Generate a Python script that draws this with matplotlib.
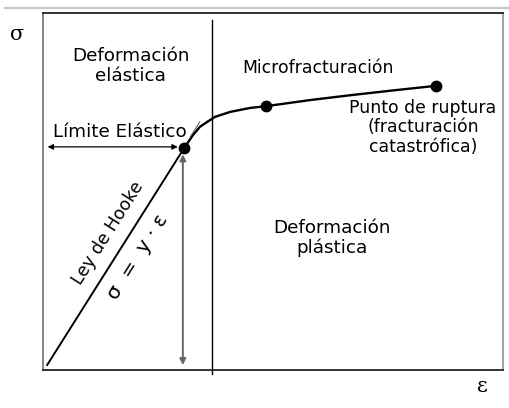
import numpy as np
import matplotlib
matplotlib.use("Agg")
import matplotlib.pyplot as plt

# Curva tensión-deformación (unidades arbitrarias, ejes 0..10)
hooke_strain = [0.09, 3.07]
hooke_stress = [0.14, 6.22]

plastic_strain = [3.07, 3.26, 3.41, 3.57, 3.74, 4.07, 4.50, 4.85, 5.80, 6.70, 7.60, 8.54]
plastic_stress = [6.22, 6.58, 6.81, 6.95, 7.09, 7.23, 7.34, 7.39, 7.56, 7.70, 7.83, 7.96]

dot_strain = [3.07, 4.85, 8.54]
dot_stress = [6.22, 7.39, 7.96]

elastic_limit = (3.04, 6.22)
boundary_x = 3.67
tangent_strain = [3.20, 3.41]
tangent_stress = [6.53, 6.95]

W, H = 510, 408
fig = plt.figure(figsize=(W / 100, H / 100), dpi=100)
ax = fig.add_axes([43 / W, (H - 370) / H, 460 / W, 357 / H])
ax.set_xlim(0, 10)
ax.set_ylim(0, 10)
ax.set_xticks([])
ax.set_yticks([])
for side, col in [("left", "#7a7a7a"), ("top", "#222222"), ("right", "#9a9a9a"), ("bottom", "#222222")]:
    ax.spines[side].set_color(col)
    ax.spines[side].set_linewidth(1.3)

# linea gris superior
fig.add_artist(plt.Line2D([5 / W, 1], [1 - 8 / H, 1 - 8 / H], color="#c8c8c8", lw=1.6))

ax.plot(hooke_strain, hooke_stress, color="black", lw=1.4)
ax.plot(plastic_strain, plastic_stress, color="black", lw=1.7)
ax.plot(tangent_strain, tangent_stress, color="#555555", lw=0.7)
ax.plot(dot_strain, dot_stress, "o", color="black", ms=7.5)

ax.plot([boundary_x, boundary_x], [-0.1, 9.8], color="black", lw=1.0, clip_on=False)

ax.annotate("", xy=(0.04, 6.25), xytext=(elastic_limit[0] - 0.05, 6.25),
            arrowprops=dict(arrowstyle="<|-|>", color="black", lw=0.9, mutation_scale=8))
ax.annotate("", xy=(elastic_limit[0], 0.06), xytext=(elastic_limit[0], 6.12),
            arrowprops=dict(arrowstyle="<|-|>", color="#666666", lw=1.4, mutation_scale=9))

fs_geo = 13.2
fs = 12.4
ax.text(1.91, 8.52, "Deformación\nelástica", ha="center", va="center", fontsize=fs_geo,
        linespacing=1.15, family="DejaVu Sans")
ax.text(0.22, 6.67, "Límite Elástico", ha="left", va="center", fontsize=fs_geo, family="DejaVu Sans")
ax.text(4.33, 8.46, "Microfracturación", ha="left", va="center", fontsize=fs)
ax.text(8.26, 6.80, "Punto de ruptura\n(fracturación\ncatastrófica)", ha="center", va="center",
        fontsize=fs, linespacing=1.1)
ax.text(6.28, 3.70, "Deformación\nplástica", ha="center", va="center", fontsize=13.2, linespacing=1.1)
ax.text(1.41, 3.84, "Ley de Hooke", ha="center", va="center", fontsize=12.5, rotation=57.7,
        rotation_mode="anchor")
ax.text(2.07, 3.17, "σ  =  y · ε", ha="center", va="center", fontsize=14.5, rotation=57.7,
        rotation_mode="anchor")

fig.text(17 / W, 1 - 34 / H, "σ", ha="center", va="center", fontsize=15, family="DejaVu Serif")
fig.text(482 / W, 1 - 387 / H, "ε", ha="center", va="center", fontsize=15, family="DejaVu Serif")

fig.savefig("out.png", dpi=100)
